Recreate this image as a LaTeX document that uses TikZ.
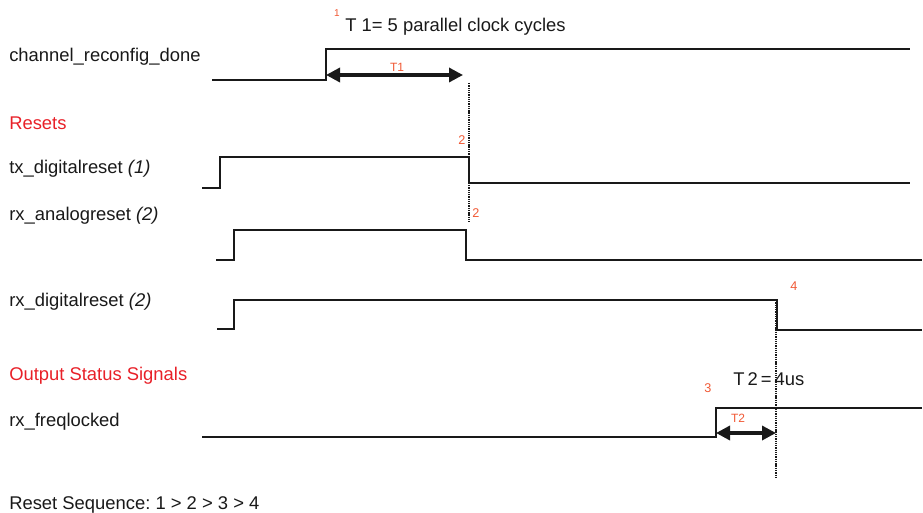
\documentclass[tikz,border=0pt]{standalone}
\usepackage{fontspec}
\setmainfont{Liberation Sans}
\usetikzlibrary{arrows.meta}
\definecolor{secred}{RGB}{232,32,40}
\definecolor{numred}{RGB}{240,88,52}
\definecolor{ink}{RGB}{25,25,25}
\begin{document}
\frenchspacing
\begin{tikzpicture}[x=0.75pt,y=-0.75pt,
  lbl/.style={anchor=base west,inner sep=0,text=ink,font=\fontsize{13.8}{16}\selectfont},
  sec/.style={lbl,text=secred},
  num/.style={anchor=center,inner sep=0,text=numred,font=\fontsize{9.5}{11}\selectfont},
  sig/.style={draw=ink,line width=1.6pt,line join=miter},
  dimarrow/.style={draw=ink,line width=2.5pt,{Triangle[length=10.5pt,width=10.5pt]}-{Triangle[length=10.5pt,width=10.5pt]}},
  guide/.style={draw=ink,line width=1.6pt,dash pattern=on 1pt off 0.7pt}]
\useasboundingbox (0,0) rectangle (923,513);

% labels
\node[lbl] (lcrd) at (9,61.7) {channel\_reconfig\_done};
\node[sec] (lres) at (9,130) {Resets};
\node[lbl] (ltxd) at (9,174) {tx\_digitalreset \textit{(1)}};
\node[lbl] (lrxa) at (9,220) {rx\_analogreset \textit{(2)}};
\node[lbl] (lrxd) at (9,306) {rx\_digitalreset \textit{(2)}};
\node[sec] (lout) at (9,380.7) {Output Status Signals};
\node[lbl] (lfrq) at (9,426) {rx\_freqlocked};
\node[lbl] (lseq) at (9,509) {Reset Sequence: 1 > 2 > 3 > 4};

% waveforms
\draw[sig] (212,80) -- (326,80) -- (326,49) -- (910,49);
\draw[sig] (202,188) -- (220,188) -- (220,157) -- (469,157) -- (469,183) -- (910,183);
\draw[sig] (216,260) -- (234,260) -- (234,230) -- (466,230) -- (466,260) -- (922,260);
\draw[sig] (217,329) -- (234,329) -- (234,300) -- (777,300) -- (777,330) -- (922,330);
\draw[sig] (202,437) -- (716,437) -- (716,408) -- (922,408);

% guides
\coordinate (g1a) at (469,83);
\coordinate (g1b) at (469,222);
\coordinate (g2a) at (776,300);
\coordinate (g2b) at (776,477);
\draw[guide] (g1a) -- (g1b);
\draw[guide] (g2a) -- (g2b);

% T1
\coordinate (t1a) at (326,75);
\coordinate (t1b) at (463,75);
\draw[dimarrow] (t1a) -- (t1b);
\node[num,font=\fontsize{9}{10}\selectfont] (t1l) at (397,67) {T1};
\node[lbl] (t1txt) at (345,31.7) {T 1= 5 parallel clock cycles};
\node[num,font=\fontsize{7.5}{8}\selectfont] (n1) at (337,13) {1};

% T2
\coordinate (t2a) at (716,433);
\coordinate (t2b) at (776,433);
\draw[dimarrow] (t2a) -- (t2b);
\node[num,font=\fontsize{9}{10}\selectfont] (t2l) at (738,418) {T2};
\node[lbl] (t2txt) at (733,385) {T\,2\,=\,4us};

% step numbers
\node[num] (n2a) at (462,140) {2};
\node[num] (n2b) at (476,213) {2};
\node[num] (n3) at (708,388) {3};
\node[num] (n4) at (794,286) {4};
\end{tikzpicture}
\end{document}
